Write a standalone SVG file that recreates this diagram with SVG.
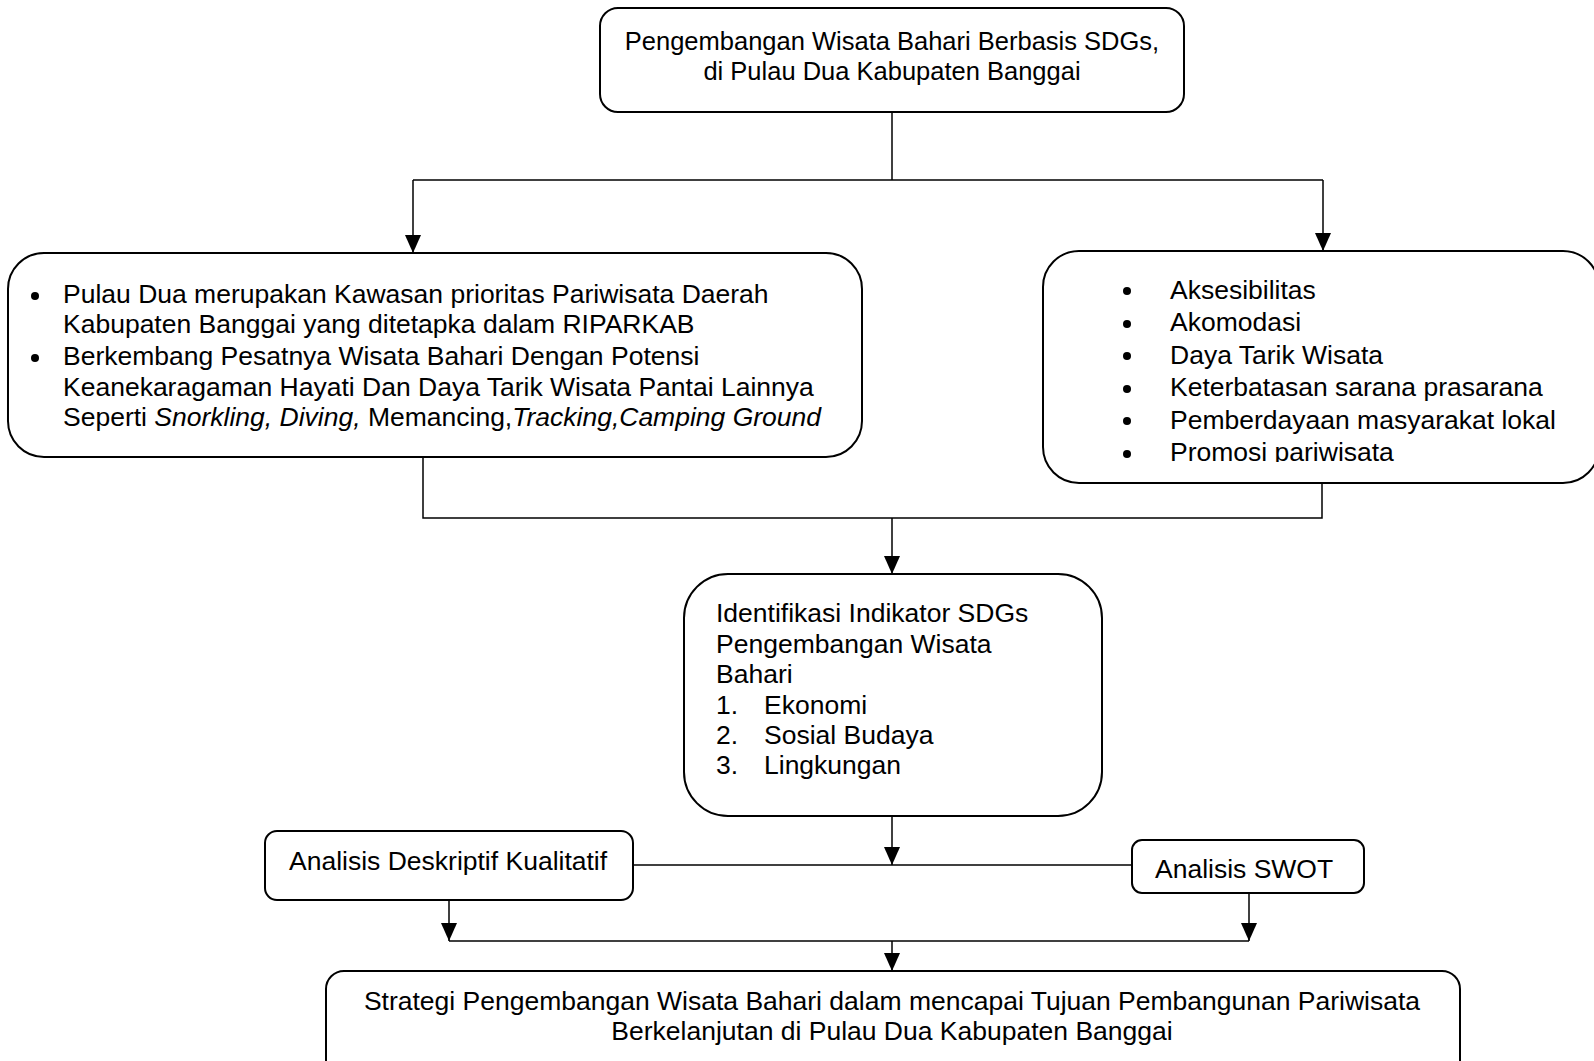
<svg xmlns="http://www.w3.org/2000/svg" width="1594" height="1061" viewBox="0 0 1594 1061">
<style>
.box{fill:#fff;stroke:#000;stroke-width:2}
.t{font-family:"Liberation Sans",Arial,sans-serif;font-size:26.5px;fill:#000}
.c{text-anchor:middle}
.ln{fill:none;stroke:#000;stroke-width:1.5}
.i{font-style:italic}
</style>
<defs>
<marker id="ah" markerUnits="userSpaceOnUse" markerWidth="18" markerHeight="16" viewBox="0 0 18 16" refX="18" refY="8" orient="auto">
<path d="M0,0 L18,8 L0,16 Z" fill="#000"/>
</marker>
<clipPath id="clipR"><rect x="1043" y="250" width="560" height="212"/></clipPath>
</defs>
<rect width="1594" height="1061" fill="#fff"/>

<g id="connectors">
<path class="ln" d="M892,112 V180"/>
<path class="ln" d="M413,180 H1323"/>
<path class="ln" d="M413,180 V253" marker-end="url(#ah)"/>
<path class="ln" d="M1323,180 V251" marker-end="url(#ah)"/>
<path class="ln" d="M423,457 V518 H1322 V483"/>
<path class="ln" d="M892,518 V574" marker-end="url(#ah)"/>
<path class="ln" d="M892,816 V865" marker-end="url(#ah)"/>
<path class="ln" d="M632,865 H1132"/>
<path class="ln" d="M449,900 V941" marker-end="url(#ah)"/>
<path class="ln" d="M1249,893 V941" marker-end="url(#ah)"/>
<path class="ln" d="M449,941 H1249"/>
<path class="ln" d="M892,941 V971" marker-end="url(#ah)"/>
</g>

<g id="top">
<rect class="box" x="600" y="8" width="584" height="104" rx="18"/>
<text class="t c" x="892" y="50" style="font-size:25.5px">Pengembangan Wisata Bahari Berbasis SDGs,</text>
<text class="t c" x="892" y="80" style="font-size:25.5px">di Pulau Dua Kabupaten Banggai</text>
</g>

<g id="left">
<rect class="box" x="8" y="253" width="854" height="204" rx="36"/>
<circle cx="35" cy="296" r="4"/>
<circle cx="35" cy="358" r="4"/>
<text class="t" x="63" y="303">Pulau Dua merupakan Kawasan prioritas Pariwisata Daerah</text>
<text class="t" x="63" y="333">Kabupaten Banggai yang ditetapka dalam RIPARKAB</text>
<text class="t" x="63" y="365">Berkembang Pesatnya Wisata Bahari Dengan Potensi</text>
<text class="t" x="63" y="396">Keanekaragaman Hayati Dan Daya Tarik Wisata Pantai Lainnya</text>
<text class="t" x="63" y="426">Seperti <tspan class="i">Snorkling, Diving,</tspan> Memancing,<tspan class="i">Tracking,Camping Ground</tspan></text>
</g>

<g id="right">
<rect class="box" x="1043" y="251" width="556" height="232" rx="36"/>
<g clip-path="url(#clipR)">
<circle cx="1127" cy="291" r="4"/>
<circle cx="1127" cy="324" r="4"/>
<circle cx="1127" cy="356" r="4"/>
<circle cx="1127" cy="389" r="4"/>
<circle cx="1127" cy="421" r="4"/>
<circle cx="1127" cy="454" r="4"/>
<text class="t" x="1170" y="299">Aksesibilitas</text>
<text class="t" x="1170" y="331">Akomodasi</text>
<text class="t" x="1170" y="364">Daya Tarik Wisata</text>
<text class="t" x="1170" y="396">Keterbatasan sarana prasarana</text>
<text class="t" x="1170" y="429">Pemberdayaan masyarakat lokal</text>
<text class="t" x="1170" y="461">Promosi pariwisata</text>
</g>
</g>

<g id="middle">
<rect class="box" x="684" y="574" width="418" height="242" rx="44"/>
<text class="t" x="716" y="622">Identifikasi Indikator SDGs</text>
<text class="t" x="716" y="653">Pengembangan Wisata</text>
<text class="t" x="716" y="683">Bahari</text>
<text class="t" x="716" y="714">1.</text>
<text class="t" x="764" y="714">Ekonomi</text>
<text class="t" x="716" y="744">2.</text>
<text class="t" x="764" y="744">Sosial Budaya</text>
<text class="t" x="716" y="774">3.</text>
<text class="t" x="764" y="774">Lingkungan</text>
</g>

<g id="deskriptif">
<rect class="box" x="265" y="831" width="368" height="69" rx="12"/>
<text class="t" x="289" y="870">Analisis Deskriptif Kualitatif</text>
</g>

<g id="swot">
<rect class="box" x="1132" y="840" width="232" height="53" rx="10"/>
<text class="t" x="1155" y="878">Analisis SWOT</text>
</g>

<g id="bottom">
<rect class="box" x="326" y="971" width="1134" height="110" rx="18"/>
<text class="t c" x="892" y="1010">Strategi Pengembangan Wisata Bahari dalam mencapai Tujuan Pembangunan Pariwisata</text>
<text class="t c" x="892" y="1040">Berkelanjutan di Pulau Dua Kabupaten Banggai</text>
</g>
</svg>
